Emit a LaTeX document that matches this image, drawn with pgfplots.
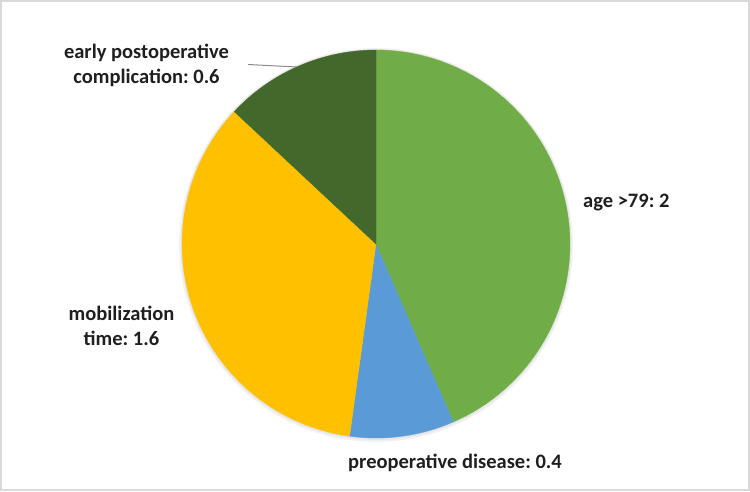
\documentclass[border=0pt]{standalone}
\usepackage{pgfplots}
\usepackage{pgfplotstable}
\pgfplotsset{compat=1.18}
\usepackage{fontspec}
\setmainfont{Carlito}
\frenchspacing
\definecolor{cGreen}{HTML}{70AD47}
\definecolor{cBlue}{HTML}{5B9BD5}
\definecolor{cYellow}{HTML}{FFC000}
\definecolor{cDark}{HTML}{43682B}
\definecolor{frameGray}{HTML}{D9D9D9}
\pgfplotstableread{
value
2
0.4
1.6
0.6
}\piedata
\tikzset{lbl/.style={font=\bfseries\fontsize{20.5}{25}\selectfont, text=black!88, inner sep=0pt}}
\begin{document}
\begin{tikzpicture}
\pgfplotstablegetelem{0}{value}\of\piedata \let\vA\pgfplotsretval
\pgfplotstablegetelem{1}{value}\of\piedata \let\vB\pgfplotsretval
\pgfplotstablegetelem{2}{value}\of\piedata \let\vC\pgfplotsretval
\pgfplotstablegetelem{3}{value}\of\piedata \let\vD\pgfplotsretval
\pgfmathsetmacro\tot{\vA+\vB+\vC+\vD}
\pgfmathsetmacro\aA{360*\vA/\tot}
\pgfmathsetmacro\aB{360*(\vA+\vB)/\tot}
\pgfmathsetmacro\aC{360*(\vA+\vB+\vC)/\tot}
\def\cx{376}\def\cy{244}\def\r{194}
\begin{axis}[
  width=750pt, height=492pt, scale only axis,
  xmin=0, xmax=750, ymin=0, ymax=492, y dir=reverse,
  axis lines=none, clip=false,
]
% soft shadow
\addplot[draw=none, fill=black!5, domain=0:360, samples=120] ({\cx+(\r+3)*sin(x)},{\cy+1-(\r+3)*cos(x)}) -- cycle;
\addplot[draw=none, fill=black!10, domain=0:360, samples=120] ({\cx+(\r+1.5)*sin(x)},{\cy+0.5-(\r+1.5)*cos(x)}) -- cycle;
% slices
\addplot[draw=cGreen, line width=0.3pt, fill=cGreen, domain=0:\aA, samples=80] ({\cx+\r*sin(x)},{\cy-\r*cos(x)}) -- (axis cs:\cx,\cy) -- cycle;
\addplot[draw=cBlue, line width=0.3pt, fill=cBlue, domain=\aA:\aB, samples=30] ({\cx+\r*sin(x)},{\cy-\r*cos(x)}) -- (axis cs:\cx,\cy) -- cycle;
\addplot[draw=cYellow, line width=0.3pt, fill=cYellow, domain=\aB:\aC, samples=80] ({\cx+\r*sin(x)},{\cy-\r*cos(x)}) -- (axis cs:\cx,\cy) -- cycle;
\addplot[draw=cDark, line width=0.3pt, fill=cDark, domain=\aC:360, samples=40] ({\cx+\r*sin(x)},{\cy-\r*cos(x)}) -- (axis cs:\cx,\cy) -- cycle;
% leader line
\draw[black!45, line width=1pt] (axis cs:248,64.5) -- (axis cs:297,67);
% labels
\node[lbl, anchor=west] at (axis cs:583,203) {age >79: 2};
\node[lbl, anchor=west] at (axis cs:348,463) {preoperative disease: 0.4};
\node[lbl, align=center] at (axis cs:121.5,325.5) {mobilization\\time: 1.6};
\node[lbl, align=center] at (axis cs:146.5,65.5) {early postoperative\\complication: 0.6};
% frame
\draw[frameGray, line width=2pt] (axis cs:1,1) rectangle (axis cs:748.5,490);
\path (axis cs:0,0) (axis cs:750,492);
\end{axis}
\end{tikzpicture}
\end{document}
